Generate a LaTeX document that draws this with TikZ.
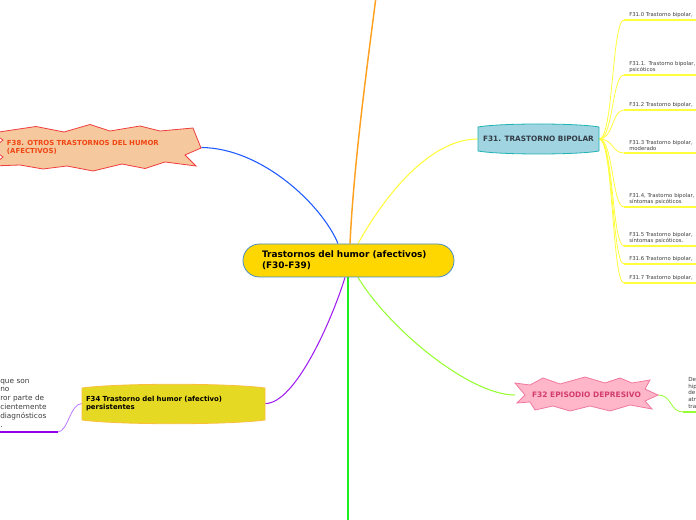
\documentclass[tikz,border=0pt]{standalone}
\usepackage{fontspec}
\setmainfont{DejaVu Sans}
\usetikzlibrary{calc,backgrounds}
\definecolor{cfill}{RGB}{255,215,0}
\definecolor{cdraw}{RGB}{70,140,200}
\definecolor{fofill}{RGB}{160,212,225}
\definecolor{fodraw}{RGB}{30,180,180}
\definecolor{fotext}{RGB}{50,60,70}
\definecolor{fzfill}{RGB}{230,217,35}
\definecolor{fzdraw}{RGB}{250,190,60}
\definecolor{fdfill}{RGB}{255,182,200}
\definecolor{fddraw}{RGB}{240,120,160}
\definecolor{fdtext}{RGB}{210,60,110}
\definecolor{fefill}{RGB}{245,200,158}
\definecolor{fedraw}{RGB}{240,60,60}
\definecolor{fetext}{RGB}{240,70,20}
\definecolor{subtext}{RGB}{60,60,60}
\definecolor{lblue}{RGB}{30,90,255}
\definecolor{lorange}{RGB}{255,160,30}
\definecolor{lyellow}{RGB}{255,255,60}
\definecolor{lgreen}{RGB}{30,240,30}
\definecolor{lpurple}{RGB}{160,30,240}
\definecolor{llgreen}{RGB}{150,255,50}
\definecolor{lviolet}{RGB}{190,120,255}
\definecolor{ldviolet}{RGB}{150,0,230}
\tikzset{
  conn/.style={line width=0.8pt},
  subline/.style={lyellow, line width=0.6pt},
  subunder/.style={lyellow, line width=1.1pt},
  subbox/.style={anchor=south west, inner xsep=3.75pt, inner ysep=1.5pt, text width=120pt, align=left, font=\fontsize{4}{4.9}\selectfont, text=subtext},
}
\begin{document}
\begin{tikzpicture}[x=0.75pt,y=-0.75pt]
\useasboundingbox (0,0) rectangle (696,520);
% nodes
\node[draw=cdraw, fill=cfill, line width=0.6pt, rounded corners=12.3pt, minimum width=158.25pt, minimum height=24.75pt, inner xsep=14.25pt, text width=129.75pt, align=left, font=\fontsize{6.7}{8.25}\selectfont\bfseries] (c) at (348.5,260.5) {Trastornos del humor (afectivos)\\(F30-F39)};
\node[minimum width=150.75pt, inner xsep=5.25pt, text width=140.25pt, align=left, font=\fontsize{5.2}{6}\selectfont\bfseries, text=fetext] (f38) at (100.5,147.5) {F38. OTROS TRASTORNOS DEL HUMOR\\(AFECTIVOS)};
\node[minimum width=90.75pt, minimum height=21pt, font=\fontsize{5.5}{6}\selectfont\bfseries, text=fotext] (f31) at (538.5,139) {F31. TRASTORNO BIPOLAR};
\node[minimum width=107.25pt, minimum height=20pt, font=\fontsize{5.6}{6}\selectfont\bfseries, text=fdtext] (f32) at (586.5,395) {F32 EPISODIO DEPRESIVO};
\node[minimum width=137.25pt, minimum height=25pt, inner xsep=3pt, text width=131.25pt, align=left, font=\fontsize{5.2}{6}\selectfont\bfseries] (f34) at (173.5,403.5) {F34 Trastorno del humor (afectivo)\\persistentes};
\node[subbox] (s0) at (624,20) {F31.0 Trastorno bipolar,};
\node[subbox] (s1) at (624,75) {F31.1. Trastorno bipolar,\\psicóticos};
\node[subbox] (s2) at (624,110) {F31.2 Trastorno bipolar,};
\node[subbox] (s3) at (624,153) {F31.3 Trastorno bipolar,\\moderado};
\node[subbox] (s4) at (624,207) {F31.4, Trastorno bipolar,\\síntomas psicóticos};
\node[subbox] (s5) at (624,246) {F31.5 Trastorno bipolar,\\síntomas psicóticos.};
\node[subbox] (s6) at (624,264) {F31.6 Trastorno bipolar,};
\node[subbox] (s7) at (624,283) {F31.7 Trastorno bipolar,};
\node[anchor=south west, inner xsep=0pt, inner ysep=3.5pt, text width=42.75pt, align=left, font=\fontsize{5.5}{6.6}\selectfont, text=subtext] (lt) at (0,432) {que son\\no\\ror parte de\\cientemente\\diagnósticos\\.};
\node[anchor=south west, inner xsep=3.75pt, inner ysep=2.5pt, text width=40pt, align=left, font=\fontsize{4.2}{5.05}\selectfont, text=subtext] (rt) at (683,412) {Del\\hip\\de\\atr\\tra};
\coordinate (top) at (376,-3);
\coordinate (bot) at (348,523);
\begin{scope}[on background layer]
% connectors
\draw[conn, lblue] ($(c.north)+(-10.5,0)$) .. controls (322,205) and (262,148) .. (f38.east);
\draw[conn, lorange, line width=1.1pt] ($(c.north)+(1.5,0)$) .. controls (354,160) and (368,60) .. (top);
\draw[conn, lyellow] ($(c.north)+(9.5,0)$) .. controls (385,195) and (430,139) .. (f31.west);
\draw[conn, lgreen, line width=1.4pt] ($(c.south)+(-0.5,0)$) -- (bot);
\draw[conn, lpurple] ($(c.south)+(-3.5,0)$) .. controls (332,320) and (295,404) .. (f34.east);
\draw[conn, llgreen] ($(c.south)+(9.5,0)$) .. controls (390,330) and (470,395) .. (f32.west);
\foreach \s in {s0,s1,s2,s3,s4,s5,s6,s7}{
  \draw[subline] (f31.east) .. controls +(14,0) and +(-12,0) .. (\s.south west);
  \draw[subunder] (\s.south west) -- ++(80,0);
}
\draw[conn, lviolet, line width=0.6pt] (f34.west) .. controls (70,404) and (68,432) .. (lt.south east);
\draw[ldviolet, line width=1.2pt] (lt.south east) -- ($(lt.south west)+(-5,0)$);
\draw[conn, llgreen, line width=0.6pt] (f32.east) .. controls (672,395) and (670,412) .. (rt.south west);
\draw[llgreen, line width=1.3pt] (rt.south west) -- ++(20,0);
% shapes
\path[fill=fofill, draw=fodraw, line width=0.6pt] (478,127) .. controls (500,123) and (577,123) .. (599,127) -- (599,151) .. controls (577,155) and (500,155) .. (478,151) -- cycle;
\path[fill=fzfill, draw=fzdraw, line width=0.6pt] (82,388) .. controls (120,383) and (227,383) .. (265,388) -- (265,420) .. controls (227,425) and (120,425) .. (82,420) -- cycle;
\path[fill=fdfill, draw=fddraw, line width=0.6pt] (515,383) -- (530,385) -- (543,378) -- (560,384) -- (585,377) -- (605,383) -- (620,378) -- (632,383) -- (650,380) -- (645,389) -- (658,395) -- (645,401) -- (652,409) -- (630,405) -- (610,411) -- (590,406) -- (570,411) -- (553,406) -- (535,410) -- (530,402) -- (517,403) -- (525,395) -- cycle;
\path[fill=fefill, draw=fedraw, line width=0.6pt] (-8,133) -- (36,126.5) -- (64,132) -- (90,124.5) -- (110,131) -- (140,126) -- (160,131) -- (193,128) -- (201,148) -- (185,155) -- (196,166) -- (165,162) -- (145,168.5) -- (122,164) -- (93,171) -- (67,166) -- (43,169) -- (20,165) -- (-8,166) -- (3,157) -- (-8,149) -- (3,140) -- cycle;
\end{scope}
\end{tikzpicture}
\end{document}
